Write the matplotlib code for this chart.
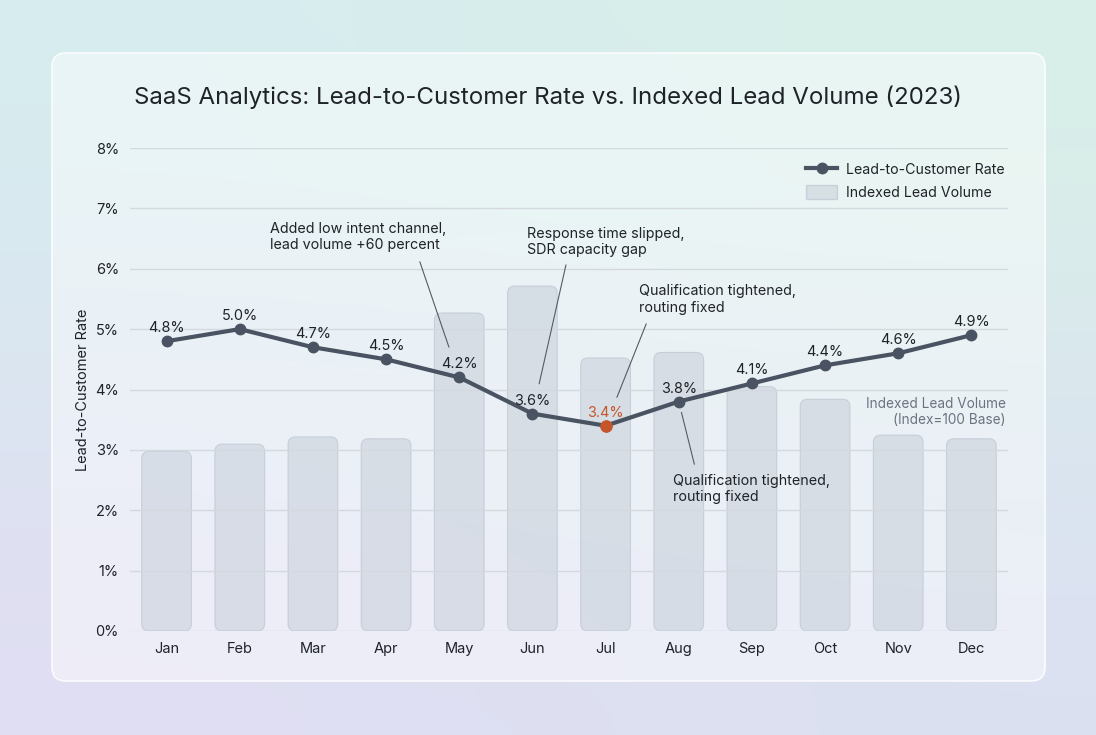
import numpy as np
import matplotlib
matplotlib.use("Agg")
import matplotlib.pyplot as plt
from matplotlib.patches import FancyBboxPatch, Patch
from matplotlib.lines import Line2D

plt.rcParams["font.family"] = ["Inter", "DejaVu Sans"]

# ---------------------------------------------------------------- data
months = ["Jan", "Feb", "Mar", "Apr", "May", "Jun", "Jul", "Aug", "Sep", "Oct", "Nov", "Dec"]
rate = [4.8, 5.0, 4.7, 4.5, 4.2, 3.6, 3.4, 3.8, 4.1, 4.4, 4.6, 4.9]
volume = [100, 104, 108, 107, 177, 192, 152, 155, 136, 129, 109, 107]
low_month = "Jul"
notes = [("May", "Added low intent channel,\nlead volume +60 percent"),
         ("Jun", "Response time slipped,\nSDR capacity gap"),
         ("Jul", "Qualification tightened,\nrouting fixed"),
         ("Aug", "Qualification tightened,\nrouting fixed")]

LINE = "#4a5361"; ORANGE = "#c5562c"; TXT = "#1f2328"; GRID = "#d3d9df"
BARC = (0.79, 0.82, 0.86, 0.6); BARE = (0.70, 0.74, 0.79, 0.55)
W, H = 1096, 735

fig = plt.figure(figsize=(W / 100, H / 100), dpi=100)

# background gradient + card
bg = fig.add_axes([0, 0, 1, 1]); bg.set_axis_off()
corners = np.array([[[0.84, 0.93, 0.94], [0.85, 0.94, 0.91]],
                    [[0.88, 0.87, 0.95], [0.86, 0.88, 0.95]]])
bg.imshow(corners, extent=(0, W, H, 0), interpolation="bicubic", aspect="auto")
bg.set_xlim(0, W); bg.set_ylim(H, 0)
bg.add_patch(FancyBboxPatch((52, 53), 993, 628, boxstyle="round,pad=0,rounding_size=14",
                            fc=(1, 1, 1, 0.45), ec=(1, 1, 1, 0.85), lw=1.2))

# main axes
L, B, AW, AH = 130, 104, 878, 483
ax = fig.add_axes([L / W, B / H, AW / W, AH / H])
ax2 = ax.twinx()
ax.set_zorder(ax2.get_zorder() + 1); ax.patch.set_visible(False)

x = np.arange(len(months))
vtop = max(volume) * 1.4
ax2.set_ylim(0, vtop); ax2.set_xlim(-0.5, 11.5)
bars = ax2.bar(x, volume, width=0.68, color="none")
asp = (AW / 12) / (AH / vtop)
for b in bars:
    ax2.add_patch(FancyBboxPatch((b.get_x(), 0), b.get_width(), b.get_height(),
                                 boxstyle="round,pad=0,rounding_size=0.1", mutation_aspect=asp,
                                 fc=BARC, ec=BARE, lw=0.8))
    b.remove()
ax2.set_axis_off()

ax.set_xlim(-0.5, 11.5); ax.set_ylim(0, 8)
ax.set_yticks(range(0, 9)); ax.set_yticklabels([f"{v}%" for v in range(0, 9)])
ax.set_xticks(x); ax.set_xticklabels(months)
ax.tick_params(length=0, labelsize=10.5, colors=TXT)
ax.tick_params(axis="y", pad=8); ax.tick_params(axis="x", pad=8)
ax.grid(axis="y", color=GRID, lw=1); ax.set_axisbelow(True)
for s in ax.spines.values(): s.set_visible(False)
ax.set_ylabel("Lead-to-Customer Rate", fontsize=10.5, color=TXT, labelpad=4)

ax.plot(x, rate, color=LINE, lw=3, marker="o", ms=7.5, zorder=3)
lo = months.index(low_month)
ax.plot([lo], [rate[lo]], "o", color=ORANGE, ms=8, zorder=4)
for i, v in enumerate(rate):
    ax.annotate(f"{v:.1f}%", (i, v), xytext=(0, 6.5), textcoords="offset points",
                ha="center", va="baseline", fontsize=10.4,
                color=ORANGE if i == lo else TXT, zorder=5)

# callouts: (offset pt, va, relpos, shrinkA, shrinkB)
geom = [((-136, 90), "bottom", (0.83, 0), 5, 23),
        ((-4, 113), "bottom", (0.26, 0), 4, 22),
        ((24, 80), "bottom", (0.07, 0), 5, 22),
        ((-4, -52), "top", (0.15, 1), 5, 8)]
for (m, txt), (off, va, rp, sa, sb) in zip(notes, geom):
    i = months.index(m)
    ax.annotate(txt, (i, rate[i]), xytext=off, textcoords="offset points", ha="left", va=va,
                fontsize=10.3, color=TXT, linespacing=1.2,
                arrowprops=dict(arrowstyle="-", color="#555b63", lw=0.8, relpos=rp,
                                shrinkA=sa, shrinkB=sb))

ax.text(0.9975, 0.453, "Indexed Lead Volume\n(Index=100 Base)", transform=ax.transAxes,
        ha="right", va="center", fontsize=9.8, color="#6b7380", linespacing=1.2)

handles = [Line2D([0], [0], color=LINE, lw=3, marker="o", ms=7.5),
           Patch(fc=BARC, ec=BARE)]
ax.legend(handles, ["Lead-to-Customer Rate", "Indexed Lead Volume"], loc="upper right",
          bbox_to_anchor=(1.004, 0.985), frameon=False, fontsize=10.2, labelcolor=TXT,
          handlelength=2.2, handleheight=1.1, handletextpad=0.6, labelspacing=0.6,
          borderaxespad=0.1)

fig.text(0.5, 1 - 97 / H, "SaaS Analytics: Lead-to-Customer Rate vs. Indexed Lead Volume (2023)",
         ha="center", va="center", fontsize=17.3, color=TXT)

fig.savefig("out.png", dpi=100)
